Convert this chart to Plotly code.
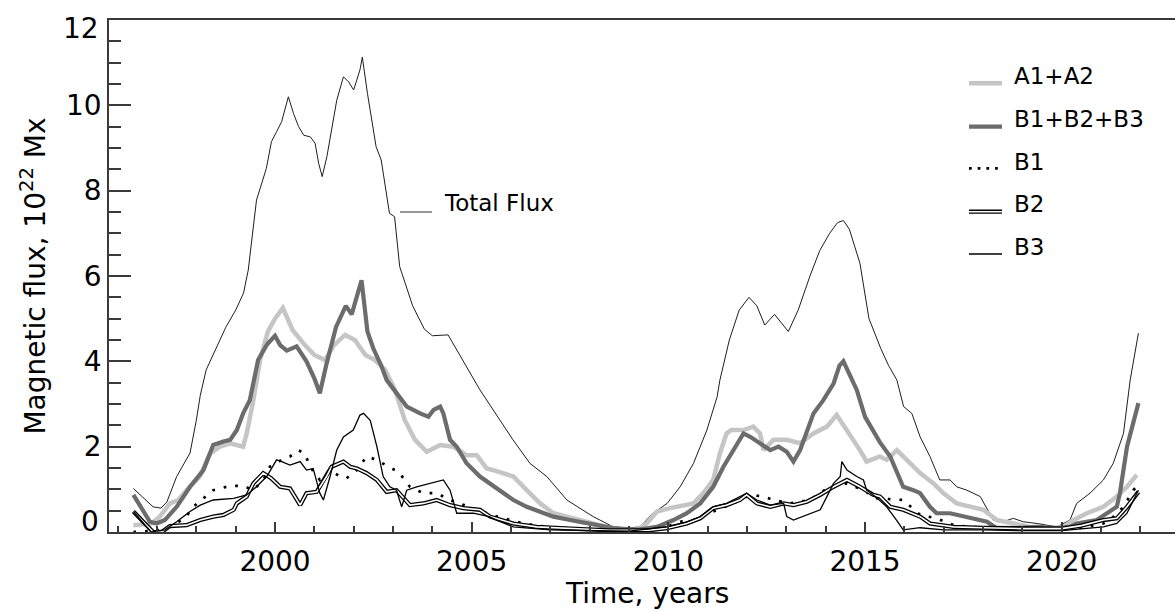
import plotly.graph_objects as go

# ---------------- data ----------------
total_x = [1996.40, 1996.65, 1996.90, 1997.10, 1997.25, 1997.50, 1997.84, 1998.00, 1998.10, 1998.25,
           1998.50, 1998.75, 1999.00, 1999.20, 1999.32, 1999.53, 1999.78, 1999.91, 2000.04, 2000.17,
           2000.34, 2000.47, 2000.60, 2000.73, 2000.90, 2001.02, 2001.11, 2001.20, 2001.32, 2001.45,
           2001.57, 2001.74, 2001.87, 2002.00, 2002.16, 2002.22, 2002.35, 2002.57, 2002.70, 2002.91,
           2003.04, 2003.17, 2003.50, 2003.80, 2004.00, 2004.40, 2004.60, 2004.90, 2005.21, 2005.72,
           2006.05, 2006.48, 2006.91, 2007.42, 2007.75, 2008.09, 2008.60, 2008.94, 2009.28, 2009.61,
           2009.97, 2010.30, 2010.64, 2010.98, 2011.24, 2011.31, 2011.55, 2011.80, 2012.05, 2012.25,
           2012.45, 2012.70, 2013.05, 2013.30, 2013.60, 2013.85, 2014.10, 2014.30, 2014.45, 2014.60,
           2014.87, 2015.10, 2015.40, 2015.60, 2015.81, 2015.98, 2016.19, 2016.40, 2016.65, 2016.90,
           2017.16, 2017.33, 2017.59, 2017.93, 2018.26, 2018.51, 2018.77, 2019.02, 2019.37, 2019.88,
           2020.21, 2020.38, 2020.72, 2021.06, 2021.31, 2021.57, 2021.74, 2021.95]
total_y = [1.02, 0.80, 0.59, 0.56, 0.70, 1.30, 1.85, 2.62, 3.20, 3.80,
           4.30, 4.80, 5.20, 5.60, 6.14, 7.78, 8.52, 9.15, 9.38, 9.62,
           10.20, 9.81, 9.50, 9.30, 9.26, 9.11, 8.64, 8.33, 8.80, 9.46,
           10.12, 10.67, 10.55, 10.36, 10.83, 11.13, 10.28, 9.03, 8.72, 7.47,
           7.39, 6.22, 5.30, 4.75, 4.60, 4.62, 4.30, 3.80, 3.33, 2.62,
           2.16, 1.61, 1.30, 0.75, 0.56, 0.36, 0.12, 0.09, 0.12, 0.44,
           0.67, 1.06, 1.61, 2.39, 3.17, 3.56, 4.50, 5.20, 5.50, 5.30,
           4.85, 5.10, 4.70, 5.20, 6.00, 6.60, 7.00, 7.25, 7.30, 7.10,
           6.30, 5.00, 4.30, 3.90, 3.56, 2.94, 2.78, 2.23, 1.77, 1.22,
           1.22, 1.06, 0.98, 0.83, 0.28, 0.24, 0.32, 0.24, 0.20, 0.12,
           0.28, 0.67, 0.91, 1.22, 1.61, 2.31, 3.56, 4.66]

a12_x = [1996.40, 1996.86, 1997.07, 1997.33, 1997.54, 1997.75, 1998.09, 1998.35, 1998.60, 1998.86,
         1999.19, 1999.28, 1999.45, 1999.62, 1999.82, 2000.00, 2000.20, 2000.45, 2000.76, 2001.00,
         2001.27, 2001.50, 2001.78, 2002.03, 2002.30, 2002.54, 2002.80, 2003.05, 2003.30, 2003.56,
         2003.86, 2004.20, 2004.53, 2004.87, 2005.13, 2005.38, 2005.55, 2006.06, 2006.40, 2006.74,
         2007.08, 2007.42, 2007.93, 2008.43, 2008.86, 2009.20, 2009.45, 2009.71, 2010.04, 2010.38,
         2010.64, 2010.89, 2011.14, 2011.31, 2011.48, 2011.60, 2011.91, 2012.16, 2012.33, 2012.42,
         2012.67, 2013.01, 2013.35, 2013.69, 2014.03, 2014.28, 2014.54, 2014.87, 2015.04, 2015.38,
         2015.55, 2015.81, 2016.06, 2016.40, 2016.74, 2016.99, 2017.33, 2017.67, 2018.01, 2018.35,
         2018.77, 2019.20, 2019.70, 2020.04, 2020.30, 2020.64, 2021.06, 2021.40, 2021.66, 2021.91]
a12_y = [0.16, 0.20, 0.36, 0.67, 0.75, 0.98, 1.30, 1.84, 2.00, 2.08,
         2.00, 2.31, 3.09, 4.03, 4.70, 5.00, 5.25, 4.73, 4.38, 4.15,
         4.03, 4.38, 4.62, 4.50, 4.15, 4.03, 3.80, 3.33, 2.62, 2.16,
         1.88, 2.04, 2.00, 1.80, 1.80, 1.49, 1.45, 1.30, 0.98, 0.67,
         0.44, 0.36, 0.24, 0.12, 0.05, 0.05, 0.20, 0.48, 0.56, 0.63,
         0.67, 0.91, 1.22, 1.84, 2.31, 2.39, 2.39, 2.47, 2.31, 1.92,
         2.16, 2.16, 2.08, 2.31, 2.47, 2.74, 2.39, 1.92, 1.65, 1.77,
         1.69, 1.92, 1.69, 1.38, 1.14, 0.91, 0.67, 0.59, 0.52, 0.28,
         0.20, 0.12, 0.09, 0.12, 0.28, 0.44, 0.59, 0.83, 1.06, 1.34]

b123_x = [1996.40, 1996.82, 1996.99, 1997.20, 1997.50, 1997.84, 1998.18, 1998.43, 1998.69, 1998.86,
          1999.03, 1999.19, 1999.36, 1999.57, 1999.80, 2000.00, 2000.13, 2000.30, 2000.55, 2000.80,
          2001.00, 2001.14, 2001.30, 2001.55, 2001.80, 2001.95, 2002.20, 2002.35, 2002.50, 2002.70,
          2002.84, 2003.09, 2003.35, 2003.69, 2003.90, 2004.03, 2004.20, 2004.28, 2004.45, 2004.62,
          2004.87, 2005.21, 2005.47, 2005.72, 2006.06, 2006.40, 2006.74, 2007.08, 2007.50, 2008.01,
          2008.60, 2009.20, 2009.71, 2010.13, 2010.47, 2010.81, 2011.14, 2011.40, 2011.65, 2011.91,
          2012.08, 2012.33, 2012.59, 2012.80, 2013.01, 2013.18, 2013.35, 2013.69, 2013.94, 2014.20,
          2014.35, 2014.45, 2014.60, 2014.79, 2015.00, 2015.38, 2015.64, 2015.81, 2015.97, 2016.23,
          2016.40, 2016.65, 2016.82, 2017.16, 2017.50, 2017.84, 2018.10, 2018.35, 2018.85, 2019.37,
          2019.88, 2020.21, 2020.38, 2020.89, 2021.40, 2021.48, 2021.66, 2021.95]
b123_y = [0.87, 0.24, 0.20, 0.28, 0.59, 1.06, 1.45, 2.04, 2.12, 2.16,
          2.39, 2.78, 3.09, 4.03, 4.40, 4.60, 4.38, 4.25, 4.35, 4.00,
          3.60, 3.25, 3.90, 4.80, 5.30, 5.10, 5.90, 4.70, 4.30, 3.90,
          3.56, 3.25, 2.94, 2.78, 2.70, 2.86, 2.94, 2.78, 2.16, 2.00,
          1.61, 1.30, 1.14, 0.98, 0.75, 0.59, 0.48, 0.36, 0.28, 0.20,
          0.09, 0.05, 0.12, 0.28, 0.44, 0.67, 1.06, 1.53, 1.92, 2.31,
          2.23, 2.08, 1.92, 2.00, 1.88, 1.65, 1.92, 2.78, 3.09, 3.48,
          3.90, 4.00, 3.70, 3.33, 2.70, 2.10, 1.77, 1.38, 1.06, 0.98,
          0.91, 0.59, 0.44, 0.44, 0.36, 0.28, 0.24, 0.09, 0.09, 0.12,
          0.09, 0.12, 0.20, 0.28, 0.59, 0.91, 2.00, 3.02]

b1_x = [1996.40, 1997.00, 1997.40, 1997.71, 1997.92, 1998.18, 1998.43, 1998.86, 1999.19, 1999.45,
        1999.70, 1999.87, 2000.17, 2000.38, 2000.59, 2000.76, 2000.89, 2001.14, 2001.40, 2001.65,
        2001.82, 2002.08, 2002.33, 2002.59, 2002.88, 2003.14, 2003.43, 2003.77, 2004.11, 2004.45,
        2004.70, 2005.04, 2005.38, 2005.50, 2006.31, 2006.91, 2007.60, 2008.50, 2009.30, 2009.97,
        2010.30, 2010.64, 2011.14, 2011.65, 2012.08, 2012.42, 2012.67, 2013.10, 2013.60, 2014.03,
        2014.54, 2014.96, 2015.30, 2015.97, 2016.40, 2016.82, 2017.25, 2017.67, 2018.50, 2019.50,
        2020.50, 2021.06, 2021.23, 2021.57, 2021.82, 2021.95]
b1_y = [0.00, 0.03, 0.16, 0.32, 0.59, 0.79, 0.98, 1.08, 1.08, 0.98,
        1.22, 1.53, 1.69, 1.77, 1.92, 1.84, 1.53, 1.22, 1.45, 1.30,
        1.26, 1.45, 1.77, 1.69, 1.53, 1.41, 1.06, 0.91, 0.91, 0.75,
        0.67, 0.56, 0.44, 0.40, 0.20, 0.12, 0.08, 0.04, 0.04, 0.12,
        0.24, 0.28, 0.48, 0.67, 0.87, 0.83, 0.75, 0.67, 0.75, 1.02,
        1.14, 0.98, 0.79, 0.75, 0.40, 0.32, 0.16, 0.12, 0.10, 0.08,
        0.10, 0.20, 0.28, 0.59, 0.98, 1.10]

b2_x = [1996.40, 1996.90, 1997.12, 1997.33, 1997.75, 1998.10, 1998.43, 1998.69, 1998.95, 1999.03,
        1999.28, 1999.45, 1999.70, 1999.90, 2000.13, 2000.38, 2000.64, 2000.80, 2001.06, 2001.31,
        2001.44, 2001.74, 2001.91, 2002.08, 2002.33, 2002.59, 2002.84, 2003.09, 2003.43, 2003.77,
        2004.11, 2004.45, 2004.79, 2005.21, 2005.47, 2006.06, 2006.65, 2007.50, 2008.50, 2009.50,
        2009.97, 2010.47, 2010.81, 2011.14, 2011.48, 2011.82, 2011.99, 2012.25, 2012.59, 2012.93,
        2013.18, 2013.52, 2013.86, 2014.20, 2014.54, 2014.87, 2015.21, 2015.38, 2015.64, 2015.97,
        2016.40, 2016.65, 2017.25, 2018.00, 2019.00, 2020.00, 2020.50, 2021.06, 2021.40, 2021.66,
        2021.95]
b2_y = [0.48, 0.00, 0.00, 0.14, 0.16, 0.28, 0.36, 0.40, 0.52, 0.67,
        0.83, 1.14, 1.38, 1.26, 1.06, 1.02, 0.63, 0.91, 0.94, 1.30,
        1.53, 1.65, 1.53, 1.49, 1.38, 1.22, 0.94, 0.98, 0.63, 0.67,
        0.75, 0.63, 0.56, 0.52, 0.36, 0.20, 0.12, 0.08, 0.04, 0.04,
        0.09, 0.20, 0.32, 0.56, 0.63, 0.75, 0.87, 0.67, 0.59, 0.67,
        0.63, 0.71, 0.87, 1.06, 1.22, 1.06, 0.87, 0.83, 0.59, 0.52,
        0.36, 0.20, 0.12, 0.10, 0.08, 0.08, 0.15, 0.28, 0.32, 0.59,
        0.94]

b3_x = [1996.40, 1996.85, 1997.20, 1997.50, 1997.84, 1998.10, 1998.43, 1998.95, 1999.28, 1999.53,
        1999.79, 2000.04, 2000.17, 2000.38, 2000.64, 2000.80, 2000.97, 2001.14, 2001.23, 2001.40,
        2001.57, 2001.74, 2001.99, 2002.16, 2002.25, 2002.42, 2002.59, 2002.75, 2002.92, 2003.09,
        2003.22, 2003.35, 2003.60, 2003.94, 2004.28, 2004.45, 2004.62, 2005.04, 2005.21, 2005.45,
        2005.63, 2006.06, 2007.00, 2008.00, 2009.00, 2009.97, 2010.47, 2010.81, 2011.14, 2011.48,
        2011.82, 2011.99, 2012.25, 2012.59, 2012.93, 2013.01, 2013.18, 2013.52, 2013.86, 2014.03,
        2014.20, 2014.37, 2014.41, 2014.54, 2014.79, 2014.96, 2015.04, 2015.30, 2015.55, 2015.80,
        2015.97, 2016.40, 2017.00, 2018.00, 2019.00, 2020.00, 2020.60, 2021.06, 2021.40, 2021.66,
        2021.95]
b3_y = [0.48, 0.00, 0.05, 0.24, 0.48, 0.63, 0.75, 0.79, 0.87, 1.06,
        1.30, 1.69, 1.65, 1.57, 1.65, 1.45, 1.49, 0.91, 0.75, 1.30,
        1.92, 2.23, 2.39, 2.74, 2.78, 2.62, 2.00, 1.30, 1.06, 0.98,
        0.59, 0.98, 1.06, 1.14, 1.22, 0.98, 0.44, 0.44, 0.40, 0.36,
        0.28, 0.12, 0.05, 0.03, 0.02, 0.12, 0.24, 0.36, 0.59, 0.67,
        0.83, 0.91, 0.75, 0.63, 0.67, 0.36, 0.28, 0.40, 0.52, 0.83,
        1.14, 1.30, 1.65, 1.45, 1.30, 1.22, 0.98, 0.80, 0.59, 0.28,
        0.05, 0.10, 0.05, 0.05, 0.03, 0.03, 0.08, 0.12, 0.20, 0.44,
        0.98]

x_major = [2000, 2005, 2010, 2015, 2020]
y_major = [0, 2, 4, 6, 8, 10, 12]
legend_names = ["A1+A2", "B1+B2+B3", "B1", "B2", "B3"]
annot_text = "Total Flux"
x_title = "Time, years"
y_title = "Magnetic flux, 10<sup>22</sup> Mx"

# ---------------- styling ----------------
FONT = "DejaVu Sans"
AXC = "#3a3a3a"
LIGHT = "#c5c5c5"
DARK = "#6c6c6c"
W, H = 1175, 612
L, R, T, B = 109, 0, 20, 80
PW, PH = W - L - R, H - T - B


def pxx(px):
    return (px - L) / PW


def pxy(py):
    return (H - B - py) / PH


fig = go.Figure()
fig.add_trace(go.Scatter(x=total_x, y=total_y, mode="lines",
                         line=dict(color="#1e1e1e", width=1)))
fig.add_trace(go.Scatter(x=a12_x, y=a12_y, mode="lines",
                         line=dict(color=LIGHT, width=4.5)))
fig.add_trace(go.Scatter(x=b123_x, y=b123_y, mode="lines",
                         line=dict(color=DARK, width=4.2)))
fig.add_trace(go.Scatter(x=b1_x, y=b1_y, mode="lines",
                         line=dict(color="black", width=2.7, dash="2.7px,9px")))
fig.add_trace(go.Scatter(x=b2_x, y=b2_y, mode="lines",
                         line=dict(color="black", width=4.2)))
fig.add_trace(go.Scatter(x=b2_x, y=b2_y, mode="lines",
                         line=dict(color="white", width=1.6)))
fig.add_trace(go.Scatter(x=b3_x, y=b3_y, mode="lines",
                         line=dict(color="black", width=1.3)))

# legend (drawn manually)
shapes = []
annots = []
leg_line_y = [83.3, 126.7, 168.3, 211.7, 254.0]
leg_text_y = [75.5, 118.5, 161.5, 203.5, 246.5]
x0, x1 = pxx(969), pxx(1002)
styles = [
    [dict(color=LIGHT, width=4.5)],
    [dict(color=DARK, width=4.2)],
    [dict(color="black", width=2.7, dash="2.7px,6px")],
    [dict(color="black", width=4.2), dict(color="white", width=1.6)],
    [dict(color="black", width=1.3)],
]
for name, ly, ty, st in zip(legend_names, leg_line_y, leg_text_y, styles):
    for s in st:
        shapes.append(dict(type="line", xref="paper", yref="paper",
                           x0=x0, x1=x1, y0=pxy(ly), y1=pxy(ly), line=s))
    annots.append(dict(text=name, xref="paper", yref="paper", x=pxx(1012), y=pxy(ty),
                       xanchor="left", yanchor="middle", showarrow=False,
                       font=dict(family=FONT, size=23, color="black")))

# Total flux label
shapes.append(dict(type="line", xref="paper", yref="paper", x0=pxx(400), x1=pxx(432),
                   y0=pxy(212), y1=pxy(212), line=dict(color="#333", width=1)))
annots.append(dict(text=annot_text, xref="paper", yref="paper", x=pxx(442), y=pxy(203),
                   xanchor="left", yanchor="middle", showarrow=False,
                   font=dict(family=FONT, size=23, color="black")))

# end labels of the y axis are drawn inset from the frame, as in the reference
for v, shift in ((y_major[0], 11), (y_major[-1], -8)):
    annots.append(dict(text=str(v), xref="paper", yref="y", x=pxx(101), y=v,
                       xanchor="right", yanchor="middle", yshift=shift, showarrow=False,
                       font=dict(family=FONT, size=28, color="black")))
inner = y_major[1:-1]

# x-axis title (centred on the full frame, which runs past the window edge)
annots.append(dict(text=x_title, xref="paper", yref="paper", x=pxx(647), y=pxy(612),
                   xanchor="center", yanchor="bottom", showarrow=False,
                   font=dict(family=FONT, size=28, color="black")))

fig.update_layout(
    width=W, height=H, margin=dict(l=L, r=R, t=T, b=B, pad=0),
    paper_bgcolor="white", plot_bgcolor="white", showlegend=False,
    font=dict(family=FONT, size=28, color="black"),
    shapes=shapes, annotations=annots,
    xaxis=dict(range=[1995.78, 2022.88], showgrid=False, zeroline=False,
               showline=True, linecolor=AXC, linewidth=1.5, mirror=True,
               ticks="inside", ticklen=10, tickwidth=1.5, tickcolor=AXC,
               tickvals=x_major, ticktext=[str(v) for v in x_major],
               ticklabelstandoff=4,
               tickfont=dict(family=FONT, size=28, color="black"),
               minor=dict(ticks="inside", dtick=1, tick0=1996, ticklen=6,
                          tickwidth=1.5, tickcolor=AXC, showgrid=False)),
    yaxis=dict(range=[0, 12], showgrid=False, zeroline=False,
               showline=True, linecolor=AXC, linewidth=1.5, mirror=False,
               ticks="inside", ticklen=22, tickwidth=1.5, tickcolor=AXC,
               tickvals=inner, ticktext=[str(v) for v in inner],
               tickfont=dict(family=FONT, size=28, color="black"),
               minor=dict(ticks="inside", dtick=0.5, tick0=0, ticklen=12,
                          tickwidth=1.5, tickcolor=AXC, showgrid=False),
               title=dict(text=y_title, font=dict(family=FONT, size=28), standoff=12)),
    yaxis2=dict(range=[0, 12], overlaying="y", side="right", showgrid=False,
                zeroline=False, showline=False, showticklabels=False,
                ticks="inside", ticklen=12, tickwidth=1.5, tickcolor=AXC, dtick=2,
                minor=dict(ticks="inside", dtick=0.5, tick0=0, ticklen=2,
                           tickwidth=1.5, tickcolor=AXC, showgrid=False)),
)

fig.write_html("out.html")
